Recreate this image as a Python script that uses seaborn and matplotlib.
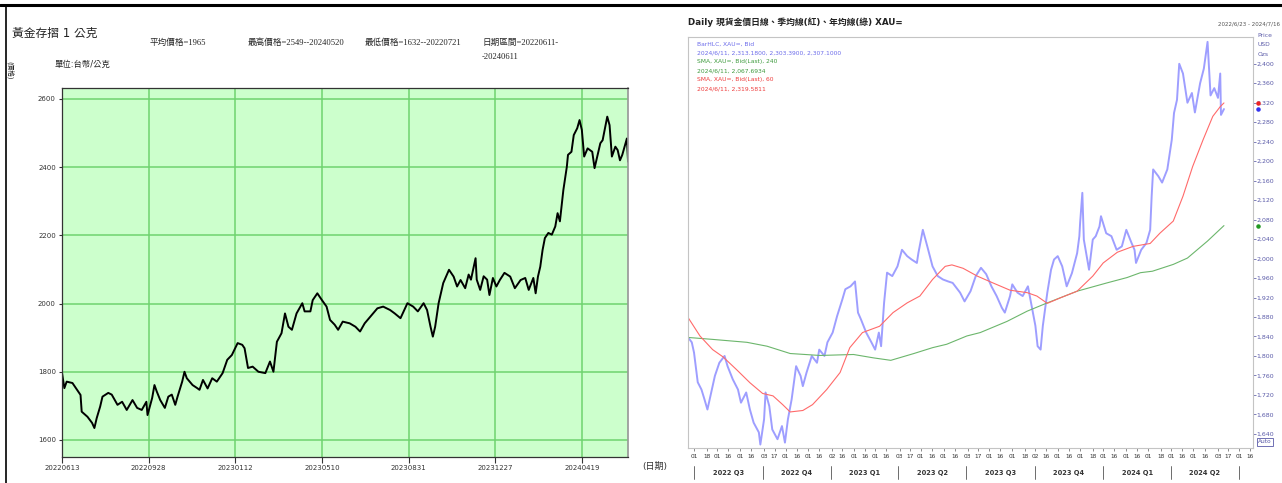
import pandas as pd
import seaborn as sns
import matplotlib.pyplot as plt
from matplotlib.lines import Line2D
from matplotlib.transforms import blended_transform_factory

sns.set_theme(style='white')
plt.rcParams['font.family'] = ['DejaVu Sans', 'Noto Sans CJK TC']
CJK_SERIF = ['Liberation Serif', 'Noto Sans CJK TC']

# ---- left panel: 黃金存摺 (TWD / gram), x = trading-day index ----
twd_day = [0, 2, 4, 9, 13, 16, 17, 22, 26, 28, 30, 33, 35, 40, 43, 48, 52, 56, 61, 65,
           69, 73, 74, 78, 80, 82, 85, 89, 92, 95, 98, 100, 104, 106, 108, 113, 117, 119, 122, 126,
           130, 134, 139, 143, 147, 152, 156, 158, 161, 165, 170, 176, 180, 183, 186, 190, 193, 196, 199, 203,
           208, 210, 215, 217, 221, 225, 229, 232, 236, 239, 243, 249, 254, 258, 262, 267, 273, 278, 284, 288,
           293, 299, 304, 308, 313, 316, 319, 321, 323, 326, 330, 335, 339, 342, 345, 349, 352, 354, 358, 359,
           362, 365, 368, 370, 373, 376, 379, 383, 388, 392, 397, 401, 404, 408, 410, 412, 414, 416, 418, 421,
           424, 427, 429, 431, 434, 437, 438, 441, 443, 446, 448, 450, 452, 455, 459, 461, 463, 466, 468, 472,
           474, 476, 479, 481, 483, 485, 487, 489, 490]
twd_price = [1796, 1752, 1771, 1767, 1747, 1732, 1683, 1668, 1650, 1635, 1664, 1698, 1727, 1738, 1733, 1703, 1712, 1688, 1717, 1694,
             1688, 1712, 1673, 1723, 1761, 1742, 1717, 1694, 1727, 1733, 1703, 1727, 1771, 1800, 1781, 1761, 1752, 1747, 1776, 1751,
             1781, 1771, 1796, 1835, 1849, 1884, 1879, 1869, 1811, 1815, 1800, 1796, 1830, 1800, 1888, 1913, 1971, 1932, 1923, 1971,
             2001, 1977, 1977, 2010, 2030, 2010, 1991, 1952, 1938, 1923, 1947, 1942, 1932, 1918, 1942, 1962, 1986, 1991, 1981, 1971,
             1957, 2001, 1991, 1977, 2001, 1981, 1932, 1903, 1932, 2001, 2060, 2099, 2079, 2050, 2069, 2045, 2085, 2070, 2133, 2070,
             2040, 2080, 2070, 2025, 2075, 2050, 2069, 2090, 2079, 2045, 2069, 2075, 2040, 2075, 2030, 2079, 2108, 2157, 2192, 2207,
             2202, 2226, 2265, 2241, 2333, 2401, 2436, 2445, 2494, 2514, 2538, 2509, 2431, 2455, 2445, 2397, 2426, 2470, 2479, 2548,
             2523, 2431, 2460, 2450, 2420, 2436, 2460, 2484, 2416]
twd_tick_day = [0, 75, 150, 225, 300, 375, 450]
twd_tick_label = ['20220613', '20220928', '20230112', '20230510', '20230831', '20231227', '20240419']
twd_yticks = [1600, 1800, 2000, 2200, 2400, 2600]

# ---- right panel: XAU= daily, SMA60 (red), SMA240 (green) ----
xau_date = ['2022-06-23', '2022-06-28', '2022-07-01', '2022-07-06', '2022-07-11', '2022-07-15', '2022-07-19', '2022-07-25',
            '2022-07-29', '2022-08-04', '2022-08-11', '2022-08-15', '2022-08-22', '2022-08-29', '2022-09-02', '2022-09-09',
            '2022-09-14', '2022-09-19', '2022-09-26', '2022-09-28', '2022-10-03', '2022-10-05', '2022-10-10', '2022-10-14',
            '2022-10-21', '2022-10-27', '2022-10-31', '2022-11-04', '2022-11-09', '2022-11-15', '2022-11-21', '2022-11-24',
            '2022-11-29', '2022-12-06', '2022-12-13', '2022-12-16', '2022-12-23', '2022-12-27', '2023-01-03', '2023-01-09',
            '2023-01-16', '2023-01-20', '2023-01-27', '2023-02-02', '2023-02-06', '2023-02-10', '2023-02-17', '2023-02-24',
            '2023-03-01', '2023-03-06', '2023-03-09', '2023-03-13', '2023-03-17', '2023-03-24', '2023-03-31', '2023-04-06',
            '2023-04-13', '2023-04-19', '2023-04-26', '2023-04-28', '2023-05-04', '2023-05-10', '2023-05-17', '2023-05-24',
            '2023-05-31', '2023-06-07', '2023-06-13', '2023-06-23', '2023-06-29', '2023-07-07', '2023-07-14', '2023-07-21',
            '2023-07-28', '2023-08-04', '2023-08-11', '2023-08-18', '2023-08-22', '2023-08-29', '2023-09-01', '2023-09-08',
            '2023-09-15', '2023-09-22', '2023-09-27', '2023-10-02', '2023-10-05', '2023-10-09', '2023-10-12', '2023-10-18',
            '2023-10-23', '2023-10-27', '2023-11-01', '2023-11-07', '2023-11-13', '2023-11-20', '2023-11-27', '2023-11-30',
            '2023-12-01', '2023-12-04', '2023-12-06', '2023-12-13', '2023-12-18', '2023-12-22', '2023-12-27', '2023-12-29',
            '2024-01-05', '2024-01-12', '2024-01-19', '2024-01-26', '2024-02-01', '2024-02-08', '2024-02-12', '2024-02-14',
            '2024-02-21', '2024-02-28', '2024-03-04', '2024-03-06', '2024-03-08', '2024-03-15', '2024-03-20', '2024-03-27',
            '2024-04-02', '2024-04-05', '2024-04-09', '2024-04-12', '2024-04-17', '2024-04-23', '2024-04-29', '2024-05-03',
            '2024-05-10', '2024-05-15', '2024-05-20', '2024-05-24', '2024-05-29', '2024-06-03', '2024-06-06', '2024-06-07',
            '2024-06-11']
xau_price = [1838, 1828, 1807, 1746, 1731, 1711, 1690, 1731,
             1759, 1786, 1800, 1779, 1752, 1731, 1704, 1725,
             1690, 1663, 1643, 1618, 1670, 1725, 1697, 1649,
             1629, 1656, 1622, 1670, 1711, 1779, 1759, 1738,
             1766, 1800, 1786, 1813, 1800, 1828, 1848, 1882,
             1916, 1937, 1943, 1953, 1889, 1875, 1848, 1828,
             1813, 1848, 1820, 1909, 1971, 1964, 1984, 2018,
             2005, 1998, 1991, 2011, 2059, 2025, 1984, 1964,
             1957, 1953, 1950, 1930, 1912, 1933, 1964, 1981,
             1968, 1943, 1923, 1899, 1889, 1923, 1947, 1930,
             1923, 1943, 1903, 1862, 1820, 1813, 1862, 1930,
             1977, 1998, 2005, 1984, 1943, 1970, 2011, 2046,
             2073, 2135, 2039, 1977, 2039, 2046, 2066, 2087,
             2052, 2046, 2018, 2025, 2059, 2032, 2018, 1991,
             2018, 2032, 2059, 2128, 2183, 2169, 2156, 2183,
             2244, 2299, 2326, 2400, 2380, 2320, 2340, 2300,
             2360, 2390, 2445, 2335, 2350, 2330, 2380, 2295,
             2307]

sma60_date = ['2022-06-23', '2022-07-09', '2022-07-26', '2022-08-09', '2022-08-27', '2022-09-14', '2022-10-01', '2022-10-15',
              '2022-10-28', '2022-11-07', '2022-11-24', '2022-12-07', '2022-12-26', '2023-01-13', '2023-01-26', '2023-02-12',
              '2023-03-07', '2023-03-25', '2023-04-13', '2023-04-30', '2023-05-17', '2023-06-03', '2023-06-12', '2023-06-27',
              '2023-07-16', '2023-08-06', '2023-08-29', '2023-09-21', '2023-10-04', '2023-10-18', '2023-11-04', '2023-11-27',
              '2023-12-18', '2024-01-01', '2024-01-20', '2024-02-10', '2024-03-04', '2024-03-17', '2024-04-04', '2024-04-17',
              '2024-04-30', '2024-05-14', '2024-05-27', '2024-06-06', '2024-06-11']
sma60 = [1879, 1841, 1813, 1798, 1772, 1745, 1723, 1718,
         1700, 1685, 1688, 1700, 1731, 1766, 1817, 1848,
         1861, 1889, 1909, 1923, 1957, 1984, 1987, 1980,
         1964, 1950, 1935, 1930, 1923, 1908, 1919, 1933,
         1964, 1991, 2013, 2025, 2031, 2052, 2077, 2128,
         2189, 2244, 2292, 2312, 2319.58]

sma240_date = ['2022-06-23', '2022-07-26', '2022-09-10', '2022-10-07', '2022-11-07', '2022-12-17', '2023-01-31', '2023-02-27',
               '2023-03-22', '2023-04-22', '2023-05-17', '2023-06-05', '2023-07-02', '2023-07-20', '2023-08-25', '2023-09-21',
               '2023-10-18', '2023-11-27', '2024-01-06', '2024-02-02', '2024-02-20', '2024-03-07', '2024-04-04', '2024-04-23',
               '2024-05-20', '2024-06-11']
sma240 = [1838, 1834, 1828, 1820, 1805, 1801, 1803, 1796,
          1791, 1805, 1817, 1824, 1841, 1848, 1871, 1892,
          1909, 1933, 1950, 1961, 1971, 1974, 1988, 2001,
          2036, 2067.69]

legend_lines = [
    ('BarHLC, XAU=, Bid', '#6b6bea'),
    ('2024/6/11, 2,313.1800, 2,303.3900, 2,307.1000', '#6b6bea'),
    ('SMA, XAU=, Bid(Last), 240', '#3d9a3d'),
    ('2024/6/11, 2,067.6934', '#3d9a3d'),
    ('SMA, XAU=, Bid(Last), 60', '#ee3b3b'),
    ('2024/6/11, 2,319.5811', '#ee3b3b'),
]
xau_yticks = list(range(1640, 2401, 40))

fig = plt.figure(figsize=(12.82, 4.83), dpi=100)

# frame lines of the screenshot
fig.add_artist(Line2D([0, 1], [0.9896, 0.9896], color='black', linewidth=2.2))
fig.add_artist(Line2D([0.0047, 0.0047], [0, 0.9896], color='black', linewidth=1.2))

# ================= left =================
ax1 = fig.add_axes([0.0484, 0.0538, 0.4415, 0.7640])
ax1.set_facecolor('#ccffcc')
sns.lineplot(x=twd_day, y=twd_price, ax=ax1, color='black', linewidth=1.4, estimator=None)
ax1.set_xlim(0, 490)
ax1.set_ylim(1550, 2632)
ax1.set_xticks(twd_tick_day, twd_tick_label)
ax1.set_yticks(twd_yticks, [str(v) for v in twd_yticks])
ax1.grid(True, color='#6fd36f', linewidth=1.1)
ax1.set_axisbelow(True)
ax1.tick_params(axis='x', bottom=True, length=4, width=0.8, color='#333333',
                labelsize=5, labelcolor='#333333', pad=2)
ax1.tick_params(axis='y', left=True, length=2.5, width=0.8, color='#333333',
                labelsize=5, labelcolor='#333333', pad=2)
for side in ['left', 'bottom', 'top']:
    ax1.spines[side].set_color('#333333')
    ax1.spines[side].set_linewidth(0.9)
ax1.spines['right'].set_color('#999999')
ax1.set_xlabel('')
ax1.set_ylabel('')

fig.text(0.0094, 0.9317, '黃金存摺 1 公克', fontsize=8.5, color='#222222', va='center')
fig.text(0.117, 0.911, '平均價格=1965', fontsize=6.2, family=CJK_SERIF, va='center')
fig.text(0.1934, 0.911, '最高價格=2549--20240520', fontsize=6.2, family=CJK_SERIF, va='center')
fig.text(0.2847, 0.911, '最低價格=1632--20220721', fontsize=6.2, family=CJK_SERIF, va='center')
fig.text(0.376, 0.911, '日期區間=20220611-', fontsize=6.2, family=CJK_SERIF, va='center')
fig.text(0.376, 0.882, '-20240611', fontsize=6.2, family=CJK_SERIF, va='center')
fig.text(0.0429, 0.8675, '單位:台幣/公克', fontsize=6, va='center')
fig.text(0.0082, 0.855, '(價格)', fontsize=4.8, va='center', ha='center', rotation=-90)
fig.text(0.5008, 0.0352, '(日期)', fontsize=6.5, color='#333333', va='center')

# ================= right =================
ax2 = fig.add_axes([0.5367, 0.0725, 0.4407, 0.8509])
ax2.set_facecolor('white')
bar_df = pd.DataFrame({'date': pd.to_datetime(xau_date), 'price': xau_price})
s60_df = pd.DataFrame({'date': pd.to_datetime(sma60_date), 'price': sma60})
s240_df = pd.DataFrame({'date': pd.to_datetime(sma240_date), 'price': sma240})
sns.lineplot(data=bar_df, x='date', y='price', ax=ax2, color='#9494ff', linewidth=1.4,
             alpha=0.9, estimator=None)
sns.lineplot(data=s240_df, x='date', y='price', ax=ax2, color='#6cb66c', linewidth=0.8, estimator=None)
sns.lineplot(data=s60_df, x='date', y='price', ax=ax2, color='#ff6a6a', linewidth=0.8, estimator=None)

x_min, x_max = pd.Timestamp('2022-06-23'), pd.Timestamp('2024-07-20')
ax2.set_xlim(x_min, x_max)
ax2.set_ylim(1611, 2455)
ax2.set_xlabel('')
ax2.set_ylabel('')
for side in ax2.spines:
    ax2.spines[side].set_color('#c4c4c4')
    ax2.spines[side].set_linewidth(0.8)

ax2.yaxis.tick_right()
ax2.set_yticks(xau_yticks, [f'{v:,}' for v in xau_yticks])
ax2.tick_params(axis='y', right=True, left=False, length=2, width=0.6, color='#6a6ab0',
                labelsize=4.5, labelcolor='#5a5aa8', pad=0.5)

bday = pd.offsets.BDay()
day_ticks = []
for m in pd.date_range('2022-07-01', '2024-07-01', freq='MS'):
    for d in (1, 16):
        t = bday.rollforward(m + pd.Timedelta(days=d - 1))
        if t <= x_max:
            day_ticks.append(t)
ax2.set_xticks(day_ticks, [f'{t.day:02d}' for t in day_ticks])
ax2.tick_params(axis='x', bottom=True, length=2, width=0.6, color='#777777',
                labelsize=4.2, labelcolor='#333333', pad=2)

bt = blended_transform_factory(ax2.transData, ax2.transAxes)
q_starts = pd.date_range('2022-07-01', '2024-07-01', freq='QS')
for i, q in enumerate(q_starts):
    ax2.plot([q, q], [-0.045, -0.075], transform=bt, clip_on=False, color='#555555', linewidth=0.6)
    if i + 1 < len(q_starts):
        mid = q + (q_starts[i + 1] - q) / 2
        ax2.text(mid, -0.06, f'{q.year} Q{q.quarter}', transform=bt, ha='center', va='center',
                 fontsize=4.8, fontweight='bold', color='#333333')

# last-value markers on the price scale
mt = blended_transform_factory(ax2.transAxes, ax2.transData)
for val, col in [(sma60[-1], '#ee2222'), (xau_price[-1], '#3333ee'), (sma240[-1], '#229922')]:
    ax2.scatter([1.008], [val], transform=mt, s=5, color=col, clip_on=False, zorder=5)

for i, (txt, col) in enumerate(legend_lines):
    ax2.text(0.016, 0.983 - i * 0.0219, txt, transform=ax2.transAxes, fontsize=4.3,
             color=col, va='center')

fig.text(0.5367, 0.9545, 'Daily 現貨金價日線、季均線(紅)、年均線(綠) XAU=', fontsize=6.3,
         fontweight='bold', color='#222222', va='center')
fig.text(0.950, 0.9503, '2022/6/23 - 2024/7/16 (TPE', fontsize=4.0, color='#555555', va='center')
for j, txt in enumerate(['Price', 'USD', 'Ozs']):
    fig.text(0.9806, 0.9275 - j * 0.0200, txt, fontsize=4.3, color='#5a5aa8', va='center')
fig.text(0.9815, 0.0849, 'Auto', fontsize=4.2, color='#5a5aa8', va='center',
         bbox=dict(boxstyle='square,pad=0.2', facecolor='white', edgecolor='#5a5aa8', linewidth=0.6))

fig.savefig('out.png', dpi=100)
